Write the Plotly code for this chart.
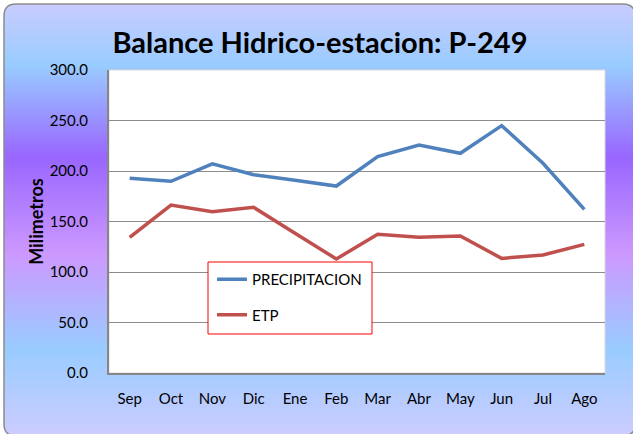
import plotly.graph_objects as go

# Monthly water balance, station P-249 (hydrological year Sep-Ago)
meses = ["Sep", "Oct", "Nov", "Dic", "Ene", "Feb", "Mar", "Abr", "May", "Jun", "Jul", "Ago"]
precipitacion = [192.8, 189.8, 207.0, 196.3, 190.8, 185.1, 214.2, 225.7, 217.5, 244.9, 207.6, 162.0]
etp = [134.3, 166.3, 159.7, 164.0, 138.3, 112.9, 137.3, 134.3, 135.6, 113.5, 116.8, 127.4]
y_ticks = [0, 50, 100, 150, 200, 250, 300]

W, H = 633, 434
L, R, T, B = 109, 605, 70, 373  # plot-area edges in pixels

FONT = "Lato"


def px(x):
    return (x - L) / (R - L)


def py(y):
    return (B - y) / (B - T)


# vertical gradient stops for the chart area background (pixel row, rgb)
stops = [
    (0, (204, 204, 255)),
    (65, (153, 204, 255)),
    (157, (153, 102, 255)),
    (255, (204, 153, 255)),
    (350, (153, 204, 255)),
    (434, (204, 204, 255)),
]


def grad(y):
    for (y0, c0), (y1, c1) in zip(stops[:-1], stops[1:]):
        if y0 <= y <= y1:
            t = (y - y0) / (y1 - y0)
            return "rgb(%d,%d,%d)" % tuple(round(a + (b - a) * t) for a, b in zip(c0, c1))
    return "rgb(%d,%d,%d)" % stops[-1][1]


shapes = []
step = 2
for y in range(0, H, step):
    shapes.append(dict(type="rect", xref="paper", yref="paper", layer="below",
                       x0=px(0), x1=px(W), y0=py(y + step + 0.5), y1=py(y),
                       fillcolor=grad(y + step / 2), line=dict(width=0)))

# white outside the rounded chart border
white = dict(fillcolor="white", line=dict(width=0), layer="below", xref="paper", yref="paper")
shapes.append(dict(type="rect", x0=px(0), x1=px(W), y0=py(4), y1=py(0), **white))
shapes.append(dict(type="rect", x0=px(0), x1=px(4), y0=py(H), y1=py(0), **white))


def path(points):
    parts = []
    for cmd, *xy in points:
        coords = " ".join("%.5f,%.5f" % (px(xy[i]), py(xy[i + 1])) for i in range(0, len(xy), 2))
        parts.append(cmd + coords)
    return " ".join(parts) + " Z"


r = 12
x_l, x_r, y_t, y_b = 4, 635, 4, 436
for corner in [
    [("M", x_l, y_t), ("L", x_l + r, y_t), ("Q", x_l, y_t, x_l, y_t + r)],
    [("M", x_r, y_t), ("L", x_r - r, y_t), ("Q", x_r, y_t, x_r, y_t + r)],
    [("M", x_l, y_b), ("L", x_l, y_b - r), ("Q", x_l, y_b, x_l + r, y_b)],
    [("M", x_r, y_b), ("L", x_r, y_b - r), ("Q", x_r, y_b, x_r - r, y_b)],
]:
    shapes.append(dict(type="path", path=path(corner), **white))

# rounded chart border
border = path([("M", x_l, y_t + r), ("Q", x_l, y_t, x_l + r, y_t), ("L", x_r - r, y_t),
               ("Q", x_r, y_t, x_r, y_t + r), ("L", x_r, y_b - r),
               ("Q", x_r, y_b, x_r - r, y_b), ("L", x_l + r, y_b),
               ("Q", x_l, y_b, x_l, y_b - r)])
shapes.append(dict(type="path", path=border, xref="paper", yref="paper", layer="below",
                   fillcolor="rgba(0,0,0,0)", line=dict(color="#8c8c8c", width=1.5)))

# white plot area
shapes.append(dict(type="rect", xref="paper", yref="paper", layer="below",
                   x0=0, x1=1, y0=0, y1=1, fillcolor="white",
                   line=dict(color="#d9d9d9", width=1)))

# legend frame
shapes.append(dict(type="rect", xref="paper", yref="paper", layer="above",
                   x0=px(208), x1=px(372), y0=py(334), y1=py(262),
                   fillcolor="white", line=dict(color="#ff0000", width=1)))

fig = go.Figure()
fig.add_trace(go.Scatter(x=meses, y=precipitacion, name="PRECIPITACION", mode="lines",
                         legendgroup="p",
                         line=dict(color="#4F81BD", width=3.5)))
fig.add_trace(go.Scatter(x=meses, y=etp, name="ETP", mode="lines",
                         legendgroup="e",
                         line=dict(color="#C0504D", width=3.5)))

fig.update_layout(
    width=W, height=H,
    margin=dict(l=L, r=W - R, t=T, b=H - B, pad=0),
    paper_bgcolor="white",
    plot_bgcolor="rgba(0,0,0,0)",
    font=dict(family=FONT, size=14, color="black"),
    title=dict(text="<b>Balance Hidrico-estacion: P-249</b>",
               font=dict(family=FONT, size=29, color="black"),
               x=320 / W, xanchor="center", xref="container",
               y=1 - 43 / H, yanchor="middle"),
    shapes=shapes,
    showlegend=True,
    legend=dict(x=px(212), y=py(263), xanchor="left", yanchor="top",
                bgcolor="rgba(0,0,0,0)", borderwidth=0,
                tracegroupgap=13, font=dict(family=FONT, size=15)),
    xaxis=dict(type="category", range=[-0.5, 11.5], showgrid=False,
               showline=True, linecolor="#868686", linewidth=2,
               ticks="", ticklabelstandoff=11, tickfont=dict(size=15)),
    yaxis=dict(range=[0, 300], tickvals=y_ticks, tickformat=".1f",
               showgrid=True, gridcolor="#8c8c8c", gridwidth=1.2,
               showline=True, linecolor="#868686", linewidth=2,
               zeroline=False, ticks="", ticklabelstandoff=16,
               tickfont=dict(size=15),
               title=dict(text="<b>Milimetros</b>", font=dict(size=18), standoff=1)),
)

fig.write_html("out.html")
